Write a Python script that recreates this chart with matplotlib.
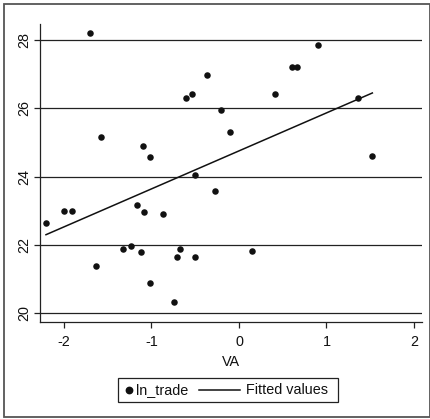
import numpy as np
import matplotlib
matplotlib.use("Agg")
import matplotlib.pyplot as plt
from matplotlib.lines import Line2D
from matplotlib.patches import Rectangle

plt.rcParams['font.family'] = ['Liberation Sans', 'DejaVu Sans']

va = [-2.206, -2.00, -1.91, -1.638, -1.322, -1.238, -1.163, -1.12, -1.082, -1.013,
      -0.872, -0.743, -0.712, -0.671, -0.499, 0.145, -1.703, -1.581, -1.101, -1.021,
      -0.602, -0.541, -0.369, -0.499, -0.27, -0.202, -0.107, 0.411, 0.606, 0.659,
      0.899, 1.356, 1.524]
ln_trade = [22.64, 22.99, 22.99, 21.39, 21.87, 21.96, 23.18, 21.78, 22.97, 20.89,
            22.90, 20.33, 21.65, 21.89, 21.65, 21.83, 28.20, 25.16, 24.90, 24.58,
            26.29, 26.41, 26.96, 24.04, 23.58, 25.94, 25.31, 26.42, 27.19, 27.21,
            27.84, 26.30, 24.61]
x_ticks = [-2, -1, 0, 1, 2]
y_ticks = [20, 22, 24, 26, 28]
legend_labels = ["ln_trade", "Fitted values"]
x_label = "VA"

W, H = 431, 419
fig = plt.figure(figsize=(W / 100, H / 100), dpi=100)
fs = 10.4

# outer border
fig.patches.append(Rectangle((4.5 / W, 1 - 416.5 / H), (430 - 4.5) / W, (416.5 - 4.5) / H,
                             transform=fig.transFigure, fill=False, edgecolor='#555555',
                             linewidth=1.3))

ax = fig.add_axes([40 / W, 1 - 322 / H, (422 - 40) / W, (322 - 24) / H])
xa = np.array(va)
ya = np.array(ln_trade)
b, a = np.polyfit(xa, ya, 1)
xs = np.array([xa.min(), xa.max()])

for yt in y_ticks:
    ax.axhline(yt, color='#222222', linewidth=0.9, zorder=1)
ax.scatter(xa, ya, s=22, color='#111111', zorder=3, linewidths=0)
ax.plot(xs, a + b * xs, color='#111111', linewidth=1.1, zorder=2)

ax.set_xlim((40 - 239) / 87.5, (422 - 239) / 87.5)
ax.set_ylim(20 - (322 - 313.3) / 34.2, 28 + (313.3 - 24) / 34.2 - 8)
ax.set_xticks(x_ticks)
ax.set_xticklabels([f"{t}" for t in x_ticks])
ax.set_yticks(y_ticks)
ax.set_yticklabels([f"{t}" for t in y_ticks], rotation=90, va='center')
for s in ['top', 'right']:
    ax.spines[s].set_visible(False)
for s in ['left', 'bottom']:
    ax.spines[s].set_color('#222222')
    ax.spines[s].set_linewidth(0.9)
ax.tick_params(axis='both', direction='out', length=4.5, width=0.9, color='#222222',
               labelsize=fs, labelcolor='#111111')
ax.tick_params(axis='x', pad=5)
ax.tick_params(axis='y', pad=2)
ax.set_xlabel(x_label, fontsize=fs, labelpad=4, color='#111111')

# legend box
lx0, lx1, ly0, ly1 = 118, 338, 377.5, 402
fig.patches.append(Rectangle((lx0 / W, 1 - ly1 / H), (lx1 - lx0) / W, (ly1 - ly0) / H,
                             transform=fig.transFigure, fill=False, edgecolor='#222222',
                             linewidth=0.9))
yc = 1 - 390 / H
fig.lines.append(Line2D([128.5 / W], [yc], marker='o', markersize=4.6, color='#111111',
                        transform=fig.transFigure, linestyle='none'))
fig.text(136 / W, yc, legend_labels[0], fontsize=fs, va='center', ha='left', color='#111111')
fig.lines.append(Line2D([199.5 / W, 240.5 / W], [yc, yc], color='#111111', linewidth=1.1,
                        transform=fig.transFigure))
fig.text(246.5 / W, yc, legend_labels[1], fontsize=fs, va='center', ha='left', color='#111111')

fig.savefig("out.png", dpi=100)
